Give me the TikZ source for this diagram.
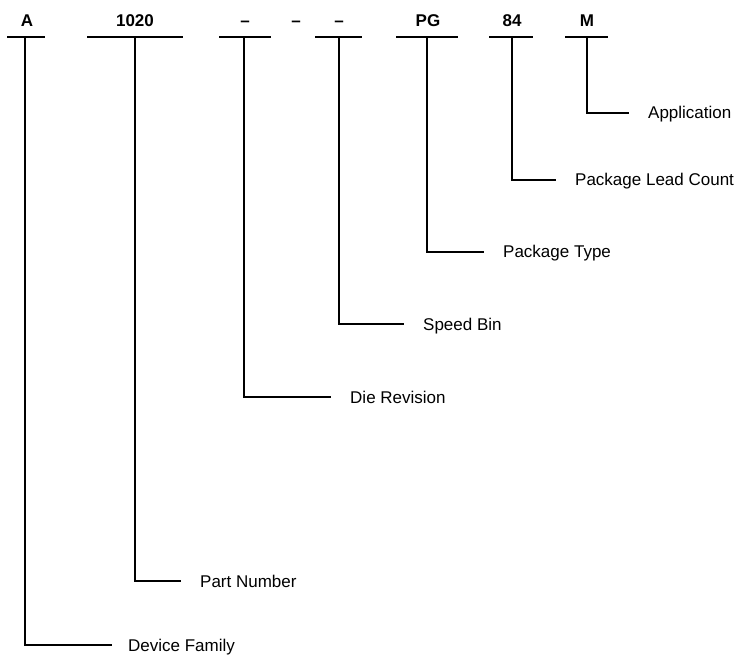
\documentclass[tikz,border=0pt]{standalone}
\usepackage{fontspec}
\setmainfont{Liberation Sans}
\begin{document}
\begin{tikzpicture}[x=1pt,y=-1pt,
  code/.style={font=\fontsize{17}{20}\selectfont\bfseries, anchor=base, inner sep=0pt},
  field/.style={font=\fontsize{17}{20}\selectfont, anchor=west, inner sep=0pt, text height=12pt, text depth=0pt},
  bar/.style={line width=1.8pt},
  stem/.style={line width=1.3pt, shorten >=19pt}]
\useasboundingbox (0,0) rectangle (739,655);
% top codes
\node[code] (cA)  at (27,27)  {A};
\node[code] (c1020) at (135,27) {1020};
\node[code] (cd1) at (245,27) {–};
\node[code] (cd2) at (296,27) {–};
\node[code] (cd3) at (339,27) {–};
\node[code] (cPG) at (428,27) {PG};
\node[code] (c84) at (512,27) {84};
\node[code] (cM)  at (587,27) {M};
% bars (stem tops)
\coordinate (bA) at (25,37);
\coordinate (b1020) at (135,37);
\coordinate (bd1) at (244,37);
\coordinate (bd3) at (339,37);
\coordinate (bPG) at (427,37);
\coordinate (b84) at (512,37);
\coordinate (bM) at (587,37);
\draw[bar] (7,37) -- (45,37);
\draw[bar] (87,37) -- (183,37);
\draw[bar] (219,37) -- (271,37);
\draw[bar] (315,37) -- (362,37);
\draw[bar] (396,37) -- (458,37);
\draw[bar] (489,37) -- (533,37);
\draw[bar] (565,37) -- (608,37);
% field labels
\node[field] (lM)   at (648,113) {Application};
\node[field] (l84)  at (575,180) {Package Lead Count};
\node[field] (lPG)  at (503,252) {Package Type};
\node[field] (ld3)  at (423,324) {Speed Bin};
\node[field] (ld1)  at (350,397) {Die Revision};
\node[field] (l1020) at (200,581) {Part Number};
\node[field] (lA)   at (128,645) {Device Family};
% connectors
\draw[stem] (bM) |- (lM);
\draw[stem] (b84) |- (l84);
\draw[stem] (bPG) |- (lPG);
\draw[stem] (bd3) |- (ld3);
\draw[stem] (bd1) |- (ld1);
\draw[stem] (b1020) |- (l1020);
\draw[stem, shorten >=16pt] (bA) |- (lA);
\end{tikzpicture}
\end{document}
